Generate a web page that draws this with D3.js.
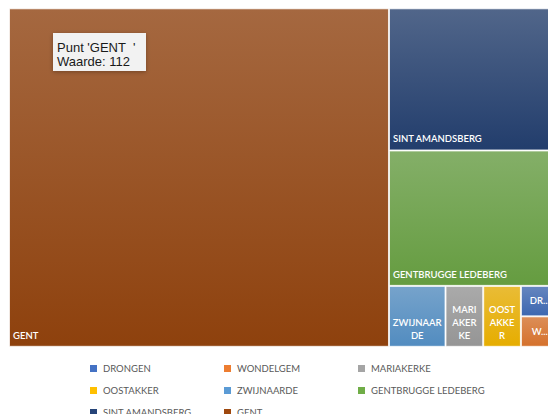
<!DOCTYPE html>
<html>
<head>
<meta charset="utf-8">
<script src="https://cdn.jsdelivr.net/npm/d3@7"></script>
<style>
  html, body { margin: 0; padding: 0; background: #fff; overflow: hidden; }
  svg { display: block; }
  .tip text { white-space: pre; }
</style>
</head>
<body>
<svg id="chart" width="548" height="414"></svg>
<script>
// ---- data ----
const categories = ["DRONGEN", "WONDELGEM", "MARIAKERKE", "OOSTAKKER", "ZWIJNAARDE", "GENTBRUGGE LEDEBERG", "SINT AMANDSBERG", "GENT"];
const values = [1, 1, 2, 2, 3, 20, 21, 112];
const colors = ["#4472C4", "#ED7D31", "#A5A5A5", "#FFC000", "#5B9BD5", "#70AD47", "#264478", "#9E480E"];
const tooltipCategory = "GENT";
const tooltipPrefix = "Punt '";
const tooltipSuffix = "  '";
const tooltipValueLabel = "Waarde: ";

// ---- layout ----
const svg = d3.select("#chart");
const plot = { x: 9, y: 8.3, w: 549.6, h: 338.5 };
const labelFont = "Lato, 'Open Sans', sans-serif";
const labelSize = 9.5;

const root = d3.hierarchy({ children: categories.map((c, i) => ({ name: c, value: values[i], index: i })) })
  .sum(d => d.value || 0)
  .sort((a, b) => b.value - a.value);

d3.treemap()
  .tile(d3.treemapSquarify.ratio(1))
  .size([plot.w, plot.h])
  .round(false)(root);

const color = d3.scaleOrdinal().domain(categories).range(colors);

// gradients
const defs = svg.append("defs");
categories.forEach((c, i) => {
  const base = d3.rgb(color(c));
  const top = d3.interpolateRgb(base, "#b4b4b4")(0.3);
  const bot = d3.rgb(base.r * 0.9, base.g * 0.9, base.b * 0.9);
  const g = defs.append("linearGradient").attr("id", "grad" + i)
    .attr("x1", 0).attr("y1", 0).attr("x2", 0).attr("y2", 1);
  g.append("stop").attr("offset", "0%").attr("stop-color", top);
  g.append("stop").attr("offset", "100%").attr("stop-color", bot.formatHex());
});
const f = defs.append("filter").attr("id", "shadow").attr("x", "-20%").attr("y", "-20%").attr("width", "150%").attr("height", "160%");
f.append("feDropShadow").attr("dx", 0).attr("dy", 1).attr("stdDeviation", 2).attr("flood-color", "#000").attr("flood-opacity", 0.3);

const gPlot = svg.append("g").attr("transform", `translate(${plot.x},${plot.y})`);

const leaves = root.leaves();
const cells = gPlot.selectAll("g.cell").data(leaves).join("g").attr("class", "cell");

cells.append("rect")
  .attr("x", d => d.x0 + 0.5)
  .attr("y", d => d.y0 + 0.5)
  .attr("width", d => Math.max(0, d.x1 - d.x0 - 1))
  .attr("height", d => Math.max(0, d.y1 - d.y0 - 1))
  .attr("fill", d => `url(#grad${d.data.index})`)
  .attr("stroke", "#ffffff")
  .attr("stroke-opacity", 0.75)
  .attr("stroke-width", 1);

// text measuring
const ctx = document.createElement("canvas").getContext("2d");
function setFont(weight) { ctx.font = `${weight} ${labelSize}px ${labelFont}`; }
function tw(s) { return ctx.measureText(s).width; }

function wrapChars(text, maxW, maxLines) {
  const words = text.split(" ");
  const lines = [];
  let cur = "";
  words.forEach(w => {
    const cand = cur ? cur + " " + w : w;
    if (tw(cand) <= maxW) { cur = cand; return; }
    if (cur) { lines.push(cur); cur = ""; }
    let piece = "";
    for (const ch of w) {
      if (tw(piece + ch) <= maxW) piece += ch;
      else { lines.push(piece); piece = ch; }
    }
    cur = piece;
  });
  if (cur) lines.push(cur);
  if (lines.length > maxLines) {
    const kept = lines.slice(0, maxLines);
    let last = text.replace(/ /g, "");
    while (last.length > 0 && tw(last + "...") > maxW * 0.7) last = last.slice(0, -1);
    kept[maxLines - 1] = last + "...";
    return kept;
  }
  return lines;
}

setFont(600);
cells.each(function(d) {
  const g = d3.select(this);
  const w = d.x1 - d.x0, h = d.y1 - d.y0;
  const name = d.data.name;
  if (tw(name) <= w - 10) {
    g.append("text")
      .attr("x", d.x0 + 4)
      .attr("y", d.y1 - 8)
      .attr("fill", "#fff")
      .attr("font-family", labelFont)
      .attr("font-size", labelSize)
      .attr("font-weight", 600)
      .text(name);
  } else {
    const lineH = 13;
    const maxLines = Math.max(1, Math.floor((h - 8) / lineH));
    const lines = wrapChars(name, w - 7.5, maxLines);
    const cx = (d.x0 + d.x1) / 2;
    let lastBase;
    if (h < 40) lastBase = (d.y0 + d.y1) / 2 + 3.4 + (lines.length - 1) * lineH / 2;
    else lastBase = d.y1 - 8;
    const t = g.append("text")
      .attr("text-anchor", "middle")
      .attr("fill", "#fff")
      .attr("font-family", labelFont)
      .attr("font-size", labelSize)
      .attr("font-weight", 600);
    lines.forEach((ln, k) => {
      t.append("tspan").attr("x", cx)
        .attr("y", lastBase - (lines.length - 1 - k) * lineH)
        .text(ln);
    });
  }
});

// ---- legend ----
const legendCols = [90, 224, 358];
const legendRows = [368.5, 390.5, 412.5];
const lg = svg.append("g");
categories.forEach((c, i) => {
  const x = legendCols[i % 3], y = legendRows[Math.floor(i / 3)];
  lg.append("rect").attr("x", x).attr("y", y - 3.5).attr("width", 7).attr("height", 7).attr("fill", color(c));
  lg.append("text").attr("x", x + 13).attr("y", y).attr("dy", "0.35em")
    .attr("fill", "#595959").attr("font-family", labelFont).attr("font-size", labelSize)
    .text(c);
});

// ---- tooltip ----
const ti = categories.indexOf(tooltipCategory);
const tip = svg.append("g").attr("class", "tip").attr("transform", "translate(53,33)");
tip.append("rect").attr("width", 93).attr("height", 38).attr("fill", "#f2f2f2").attr("filter", "url(#shadow)");
tip.append("text").attr("x", 4).attr("y", 19).attr("font-family", "'Liberation Sans', Arial, sans-serif")
  .attr("font-size", 13).attr("fill", "#1a1a1a").text(tooltipPrefix + categories[ti] + tooltipSuffix);
tip.append("text").attr("x", 4).attr("y", 33).attr("font-family", "'Liberation Sans', Arial, sans-serif")
  .attr("font-size", 13).attr("fill", "#1a1a1a").text(tooltipValueLabel + values[ti]);
</script>
</body>
</html>
